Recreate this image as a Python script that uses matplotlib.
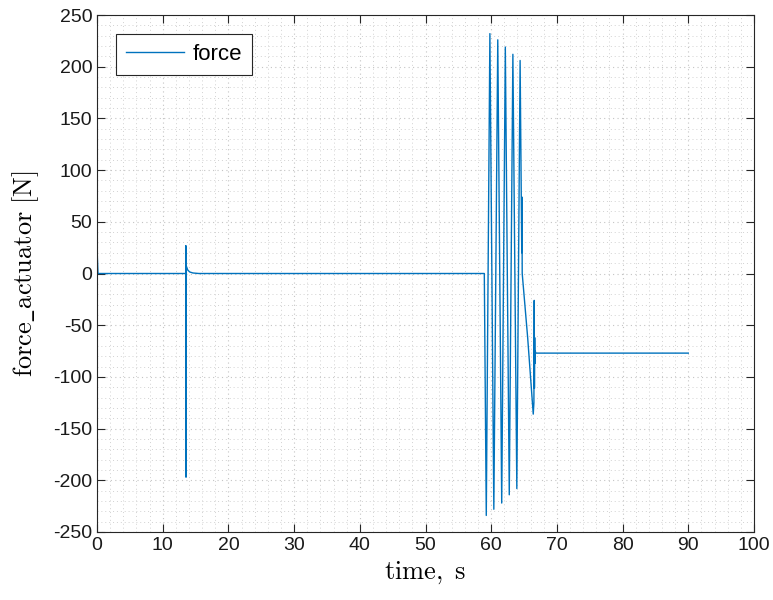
import matplotlib
matplotlib.use("Agg")
import matplotlib.pyplot as plt
from matplotlib.ticker import MultipleLocator

# data
time_s = [0.0, 0.15, 13.5, 13.52, 13.55, 13.6, 13.8, 14.1, 14.6, 15.5,
          58.95, 59.25, 59.8, 60.4, 61.0, 61.6, 62.15, 62.75, 63.3, 63.9, 64.4,
          64.65, 64.68, 64.72, 65.55, 66.4, 66.5, 66.55, 66.58, 66.62,
          66.65, 66.7, 66.8, 90.0]
force_N = [25, 0, 0, 27, -197, 7, 3.5, 1.5, 0.5, 0,
           0, -234, 232, -228, 226, -222, 219, -214, 212, -208, 206,
           20, 74, 0, -62, -136, -125, -26, -111, -62,
           -87, -75, -77, -77]

x_ticks = list(range(0, 101, 10))
y_ticks = list(range(-250, 251, 50))

plt.rcParams['mathtext.fontset'] = 'cm'
plt.rcParams['axes.unicode_minus'] = False
tick_font = ['Liberation Sans', 'DejaVu Sans']

fig = plt.figure(figsize=(7.73, 6.0), dpi=100)
ax = fig.add_axes([97 / 773, 1 - 532 / 600, (754 - 97) / 773, (532 - 15) / 600])

ax.plot(time_s, force_N, color='#0072BD', linewidth=1.0, label='force')

ax.set_xlim(0, 100)
ax.set_ylim(-250, 250)
ax.set_xticks(x_ticks)
ax.set_yticks(y_ticks)
ax.xaxis.set_minor_locator(MultipleLocator(2))
ax.yaxis.set_minor_locator(MultipleLocator(10))

ax.grid(True, which='major', linestyle=(0, (1, 3)), color='#c4c4c4', linewidth=0.8)
ax.grid(True, which='minor', linestyle=(0, (1, 3)), color='#d2d2d2', linewidth=0.7)
ax.set_axisbelow(True)

ax.tick_params(which='both', direction='in', top=True, right=True,
               colors='#262626', labelsize=14)
ax.tick_params(which='major', length=6, width=0.8)
ax.tick_params(which='minor', length=0)
for lab in ax.get_xticklabels() + ax.get_yticklabels():
    lab.set_family(tick_font)
    lab.set_color('#1a1a1a')
for sp in ax.spines.values():
    sp.set_color('#262626')
    sp.set_linewidth(0.8)

ax.set_xlabel(r'$\mathrm{time,\ s}$', fontsize=19, labelpad=4)
ax.set_ylabel(r'$\mathrm{force\_actuator\ [N]}$', fontsize=19, labelpad=9)

leg = ax.legend(loc='upper left', prop={'family': tick_font, 'size': 16},
                fancybox=False, framealpha=1, edgecolor='#262626',
                borderpad=0.45, handlelength=2.6, handletextpad=0.4,
                bbox_to_anchor=(0.012, 0.985))
leg.get_frame().set_linewidth(0.8)

fig.savefig('out.png', dpi=100)
